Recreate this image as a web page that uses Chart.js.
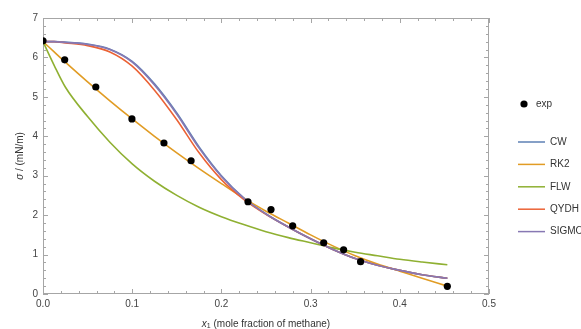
<!DOCTYPE html>
<html>
<head>
<meta charset="utf-8">
<script src="https://cdn.jsdelivr.net/npm/chart.js@4"></script>
<style>
  body { margin: 0; background: #fff; }
  canvas { display: block; }
</style>
</head>
<body>
<canvas id="chart" width="581" height="329"></canvas>
<script>
// sample grid for the model curves (x1, mole fraction of methane)
const xGrid = [0, 0.0125, 0.025, 0.05, 0.075, 0.1, 0.125, 0.15, 0.175, 0.2, 0.225, 0.25, 0.275, 0.3, 0.325, 0.35, 0.375, 0.4, 0.425, 0.4533];

const cwVals    = [6.40, 6.40, 6.39, 6.34, 6.21, 5.90, 5.33, 4.59, 3.73, 3.00, 2.44, 2.03, 1.70, 1.40, 1.13, 0.90, 0.73, 0.60, 0.49, 0.40];
const rk2Vals   = [6.40, 6.14, 5.88, 5.38, 4.90, 4.44, 4.00, 3.58, 3.18, 2.80, 2.43, 2.10, 1.80, 1.50, 1.22, 0.97, 0.76, 0.58, 0.40, 0.20];
const flwVals   = [6.40, 5.80, 5.25, 4.50, 3.85, 3.30, 2.86, 2.50, 2.20, 1.96, 1.76, 1.58, 1.43, 1.30, 1.17, 1.06, 0.97, 0.88, 0.81, 0.74];
const qydhVals  = [6.40, 6.40, 6.37, 6.30, 6.14, 5.78, 5.17, 4.42, 3.58, 2.90, 2.40, 2.02, 1.70, 1.40, 1.13, 0.90, 0.73, 0.60, 0.49, 0.40];
const sigmoVals = [6.40, 6.40, 6.38, 6.33, 6.20, 5.88, 5.30, 4.56, 3.70, 2.98, 2.43, 2.03, 1.70, 1.40, 1.13, 0.90, 0.73, 0.60, 0.49, 0.40];

// experimental points
const expX = [0, 0.0243, 0.0592, 0.0997, 0.1356, 0.166, 0.2298, 0.2556, 0.2799, 0.3147, 0.337, 0.356, 0.4533];
const expY = [6.42, 5.94, 5.25, 4.44, 3.83, 3.38, 2.34, 2.14, 1.73, 1.30, 1.12, 0.82, 0.195];

const xTicks = [0, 0.1, 0.2, 0.3, 0.4, 0.5];
const yTicks = [0, 1, 2, 3, 4, 5, 6, 7];

const FONT = '"Liberation Sans", Arial, sans-serif';
const frameColor = '#a6a6a6';

function pts(xs, ys) {
    return xs.map((x, i) => ({x: x, y: ys[i]}));
}

function curve(label, vals, color, order) {
    return {
        label: label,
        data: pts(xGrid, vals),
        borderColor: color,
        backgroundColor: color,
        borderWidth: 1.6,
        pointRadius: 0,
        cubicInterpolationMode: 'monotone',
        fill: false,
        order: order
    };
}

const frame = {
    id: 'frame',
    beforeDatasetsDraw(chart) {
        const c = chart.ctx, a = chart.chartArea;
        const sx = chart.scales.x, sy = chart.scales.y;
        c.save();
        c.strokeStyle = frameColor;
        c.lineWidth = 1;
        c.strokeRect(a.left + 0.5, a.top + 0.5, a.right - a.left - 1, a.bottom - a.top - 1);
        c.beginPath();
        // x ticks, every 0.02, major each 0.1
        for (let i = 0; i <= 25; i++) {
            const px = Math.round(sx.getPixelForValue(i * 0.02)) + 0.5;
            const len = i % 5 === 0 ? 5 : 3;
            c.moveTo(px, a.bottom); c.lineTo(px, a.bottom - len);
            c.moveTo(px, a.top); c.lineTo(px, a.top + len);
        }
        // y ticks, every 0.2, major each 1
        for (let i = 0; i <= 35; i++) {
            const py = Math.round(sy.getPixelForValue(i * 0.2)) + 0.5;
            const len = i % 5 === 0 ? 5 : 3;
            c.moveTo(a.left, py); c.lineTo(a.left + len, py);
            c.moveTo(a.right, py); c.lineTo(a.right - len, py);
        }
        c.stroke();
        c.restore();
    },
    afterDraw(chart) {
        const c = chart.ctx, a = chart.chartArea;
        c.save();
        c.fillStyle = '#333';
        c.textBaseline = 'middle';

        // x axis title
        const cx = (a.left + a.right) / 2, ty = 324;
        c.font = 'italic 10px ' + FONT;
        const w1 = c.measureText('x').width;
        c.font = '7px ' + FONT;
        const w2 = c.measureText('1').width;
        c.font = '10px ' + FONT;
        const rest = ' (mole fraction of methane)';
        const w3 = c.measureText(rest).width;
        let x0 = cx - (w1 + w2 + w3) / 2;
        c.textAlign = 'left';
        c.font = 'italic 10px ' + FONT;
        c.fillText('x', x0, ty);
        c.font = '7px ' + FONT;
        c.fillText('1', x0 + w1, ty + 2);
        c.font = '10px ' + FONT;
        c.fillText(rest, x0 + w1 + w2, ty);

        // y axis title
        c.translate(20, (a.top + a.bottom) / 2);
        c.rotate(-Math.PI / 2);
        c.font = 'italic 10px ' + FONT;
        const s1 = c.measureText('σ').width;
        c.font = '10px ' + FONT;
        const s2txt = ' / (mN/m)';
        const s2 = c.measureText(s2txt).width;
        let y0 = -(s1 + s2) / 2;
        c.font = 'italic 10px ' + FONT;
        c.fillText('σ', y0, 0);
        c.font = '10px ' + FONT;
        c.fillText(s2txt, y0 + s1, 0);
        c.restore();

        // legend
        c.save();
        c.font = '10px ' + FONT;
        c.textBaseline = 'middle';
        c.textAlign = 'left';
        const ds = chart.data.datasets;
        c.fillStyle = '#000';
        c.beginPath();
        c.arc(524, 104, 3.6, 0, Math.PI * 2);
        c.fill();
        c.fillStyle = '#333';
        c.fillText(ds[0].label, 536, 104);
        for (let i = 1; i < ds.length; i++) {
            const y = 142 + (i - 1) * 22.4;
            c.strokeStyle = ds[i].borderColor;
            c.lineWidth = 1.5;
            c.beginPath();
            c.moveTo(518, y); c.lineTo(545, y);
            c.stroke();
            c.fillText(ds[i].label, 550, y);
        }
        c.restore();
    }
};

new Chart(document.getElementById('chart'), {
    type: 'line',
    data: {
        datasets: [
            {
                label: 'exp',
                data: pts(expX, expY),
                showLine: false,
                pointRadius: 3.6,
                pointBackgroundColor: '#000',
                pointBorderWidth: 0,
                order: 0
            },
            curve('CW', cwVals, '#5E81B5', 5),
            curve('RK2', rk2Vals, '#E19C24', 4),
            curve('FLW', flwVals, '#8FB032', 3),
            curve('QYDH', qydhVals, '#EB6235', 2),
            curve('SIGMO', sigmoVals, '#8778B3', 1)
        ]
    },
    options: {
        responsive: false,
        animation: false,
        events: [],
        layout: {padding: {top: 18, right: 92, left: 0, bottom: 0}},
        scales: {
            x: {
                type: 'linear',
                min: 0, max: 0.5,
                grid: {display: false, drawTicks: false},
                border: {display: false},
                afterBuildTicks: s => { s.ticks = xTicks.map(v => ({value: v})); },
                afterFit: s => { s.height = 35; },
                ticks: {
                    maxRotation: 0,
                    padding: 4,
                    color: '#444',
                    font: {family: FONT, size: 10},
                    callback: v => v.toFixed(1)
                }
            },
            y: {
                type: 'linear',
                min: 0, max: 7,
                grid: {display: false, drawTicks: false},
                border: {display: false},
                afterBuildTicks: s => { s.ticks = yTicks.map(v => ({value: v})); },
                afterFit: s => { s.width = 43; },
                ticks: {
                    padding: 5,
                    color: '#444',
                    font: {family: FONT, size: 10}
                }
            }
        },
        plugins: {
            legend: {display: false},
            tooltip: {enabled: false}
        }
    },
    plugins: [frame]
});
</script>
</body>
</html>
